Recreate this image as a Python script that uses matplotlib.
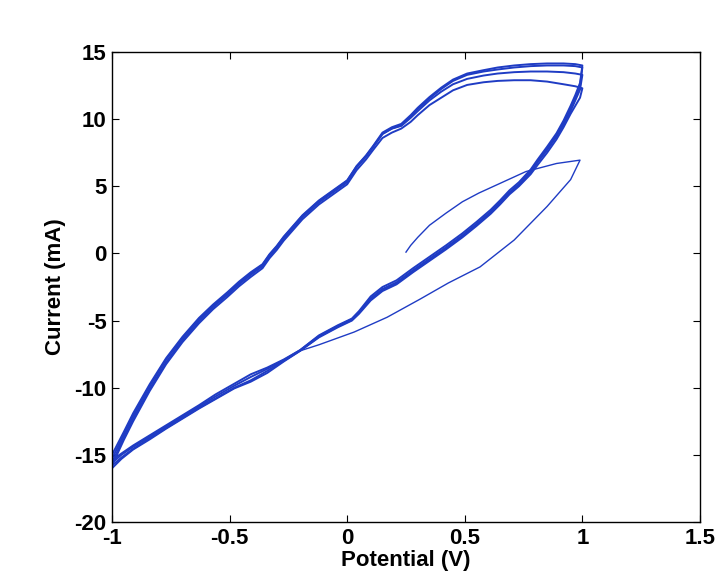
import numpy as np
import matplotlib.pyplot as plt

# potential grids (V)
v_anodic = [-1.00, -0.95, -0.91, -0.84, -0.77, -0.70, -0.63, -0.57, -0.51, -0.46,
            -0.41, -0.36, -0.33, -0.30, -0.27, -0.19, -0.12, -0.06, 0.00, 0.04,
            0.08, 0.11, 0.15, 0.19, 0.23, 0.27, 0.30, 0.35, 0.40, 0.45,
            0.51, 0.58, 0.64, 0.71, 0.78, 0.85, 0.92, 0.97, 1.00]
v_cathodic = [1.00, 0.99, 0.97, 0.95, 0.92, 0.89, 0.85, 0.81, 0.78, 0.73,
              0.69, 0.65, 0.61, 0.55, 0.49, 0.42, 0.35, 0.28, 0.21, 0.15,
              0.10, 0.05, 0.02, -0.04, -0.12, -0.20, -0.27, -0.34, -0.41, -0.48,
              -0.56, -0.63, -0.70, -0.77, -0.84, -0.91, -0.96, -1.00]

# current (mA), forward scans of each cycle
i_up_1 = [-15.3, -13.5, -12.1, -9.9, -7.9, -6.3, -4.9, -3.9, -3.0, -2.2,
          -1.5, -0.85, -0.1, 0.5, 1.2, 2.8, 3.9, 4.65, 5.4, 6.5,
          7.3, 8.0, 9.0, 9.4, 9.65, 10.3, 10.85, 11.65, 12.35, 12.95,
          13.4, 13.65, 13.85, 14.0, 14.1, 14.15, 14.15, 14.1, 14.0]
i_up_2 = [-15.6, -13.7, -12.3, -10.1, -8.1, -6.45, -5.05, -4.0, -3.1, -2.3,
          -1.6, -0.95, -0.2, 0.4, 1.1, 2.7, 3.8, 4.55, 5.3, 6.4,
          7.2, 7.9, 8.9, 9.3, 9.55, 10.2, 10.75, 11.55, 12.25, 12.85,
          13.3, 13.55, 13.7, 13.85, 13.95, 14.0, 14.0, 13.95, 13.85]
i_up_3 = [-15.0, -13.3, -11.9, -9.75, -7.8, -6.2, -4.8, -3.8, -2.9, -2.1,
          -1.4, -0.8, -0.05, 0.55, 1.25, 2.85, 3.95, 4.7, 5.45, 6.5,
          7.25, 7.95, 8.9, 9.3, 9.5, 10.1, 10.6, 11.4, 12.05, 12.6,
          13.0, 13.25, 13.4, 13.5, 13.55, 13.55, 13.5, 13.4, 13.3]
i_up_4 = [-15.8, -13.9, -12.5, -10.25, -8.25, -6.6, -5.2, -4.15, -3.25, -2.45,
          -1.75, -1.1, -0.35, 0.25, 0.95, 2.55, 3.65, 4.4, 5.15, 6.2,
          7.0, 7.7, 8.6, 9.0, 9.3, 9.8, 10.3, 11.05, 11.6, 12.15,
          12.55, 12.75, 12.85, 12.9, 12.9, 12.8, 12.6, 12.45, 12.3]

# reverse scans
i_down_1 = [14.0, 12.7, 11.8, 11.0, 9.9, 8.95, 7.95, 7.0, 6.25, 5.3,
            4.7, 3.95, 3.25, 2.35, 1.5, 0.6, -0.25, -1.1, -2.0, -2.5,
            -3.2, -4.3, -4.85, -5.35, -6.1, -7.2, -7.95, -8.6, -9.2, -9.85,
            -10.65, -11.4, -12.15, -12.9, -13.65, -14.4, -15.0, -15.6]
i_down_2 = [13.85, 12.5, 11.6, 10.8, 9.75, 8.8, 7.8, 6.85, 6.1, 5.15,
            4.55, 3.8, 3.1, 2.2, 1.35, 0.45, -0.4, -1.25, -2.15, -2.65,
            -3.35, -4.4, -4.95, -5.45, -6.2, -7.25, -8.0, -8.75, -9.45, -10.0,
            -10.8, -11.5, -12.25, -13.0, -13.75, -14.55, -15.2, -15.8]
i_down_3 = [13.3, 12.2, 11.4, 10.6, 9.6, 8.7, 7.7, 6.8, 6.05, 5.1,
            4.5, 3.75, 3.05, 2.15, 1.3, 0.4, -0.45, -1.3, -2.2, -2.7,
            -3.4, -4.4, -4.9, -5.4, -6.15, -7.2, -7.9, -8.5, -9.0, -9.7,
            -10.5, -11.3, -12.05, -12.8, -13.55, -14.3, -14.9, -15.4]
i_down_4 = [12.3, 11.6, 11.0, 10.4, 9.4, 8.5, 7.5, 6.6, 5.9, 5.0,
            4.4, 3.65, 2.95, 2.05, 1.2, 0.3, -0.55, -1.4, -2.3, -2.8,
            -3.5, -4.5, -5.0, -5.5, -6.25, -7.25, -8.05, -8.9, -9.55, -10.05,
            -10.85, -11.55, -12.3, -13.05, -13.85, -14.6, -15.3, -16.0]

# first scan, starting at open circuit
v_first = [0.25, 0.27, 0.30, 0.35, 0.42, 0.49, 0.56, 0.66, 0.76, 0.89, 0.99,
           0.95, 0.85, 0.71, 0.565, 0.43, 0.31, 0.17, 0.03, -0.12, -0.20]
i_first = [0.1, 0.6, 1.2, 2.1, 3.0, 3.85, 4.5, 5.3, 6.1, 6.7, 6.95,
           5.5, 3.5, 1.0, -1.0, -2.2, -3.4, -4.75, -5.85, -6.8, -7.25]

ups = [i_up_4, i_up_3, i_up_2, i_up_1]
downs = [i_down_4, i_down_3, i_down_2, i_down_1]

plt.rcParams['font.family'] = ['Liberation Sans', 'DejaVu Sans']
plt.rcParams['font.weight'] = 'bold'
plt.rcParams['axes.unicode_minus'] = False

fig = plt.figure(figsize=(7.22, 5.86), dpi=100)
ax = fig.add_axes([0.1551, 0.1092, 0.8144, 0.8020])

color = '#1f3cc4'
ax.plot(v_first, i_first, color=color, lw=1.0)
for up, down in zip(ups, downs):
    v = np.concatenate([v_anodic, v_cathodic])
    i = np.concatenate([up, down])
    ax.plot(v, i, color=color, lw=1.4)

ax.set_xlim(-1, 1.5)
ax.set_ylim(-20, 15)
ax.set_xticks([-1, -0.5, 0, 0.5, 1, 1.5])
ax.set_xticklabels(['-1', '-0.5', '0', '0.5', '1', '1.5'])
ax.set_yticks([-20, -15, -10, -5, 0, 5, 10, 15])
ax.tick_params(direction='in', top=True, right=True, length=5, width=0.8,
               labelsize=16, pad=4)
for s in ax.spines.values():
    s.set_linewidth(1.0)

ax.set_xlabel('Potential (V)', fontsize=16, fontweight='bold', labelpad=1)
ax.set_ylabel('Current (mA)', fontsize=16, fontweight='bold', labelpad=6)

fig.savefig('out.png', dpi=100)
